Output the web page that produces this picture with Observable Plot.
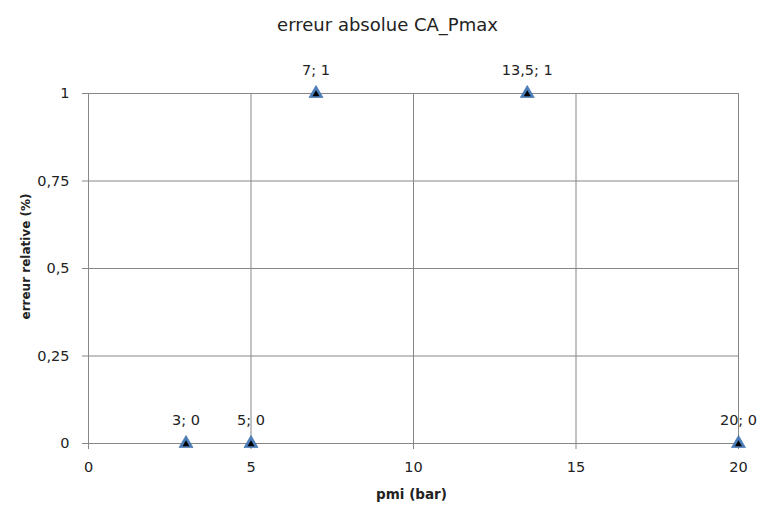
<!DOCTYPE html>
<html>
<head>
<meta charset="utf-8">
<script src="https://cdn.jsdelivr.net/npm/d3@7"></script>
<script src="https://cdn.jsdelivr.net/npm/@observablehq/plot@0.6"></script>
<style>
  html, body { margin: 0; padding: 0; background: #fff; }
  #chart svg { display: block; }
</style>
</head>
<body>
<div id="chart"></div>
<script>
const title = "erreur absolue CA_Pmax";
const xLabel = "pmi (bar)";
const yLabel = "erreur relative (%)";
const pmi = [3, 5, 7, 13.5, 20];
const erreur = [0, 0, 1, 1, 0];
const pointLabels = ["3; 0", "5; 0", "7; 1", "13,5; 1", "20; 0"];
const xTicks = [0, 5, 10, 15, 20];
const yTicks = [0, 0.25, 0.5, 0.75, 1];

const data = pmi.map((x, i) => ({x, y: erreur[i], label: pointLabels[i]}));
const fmt = d => String(d).replace(".", ",");
const gridColor = "#878787";
const font = "'DejaVu Sans', sans-serif";

const chart = Plot.plot({
  width: 759,
  height: 511,
  marginLeft: 88,
  marginRight: 21,
  marginTop: 93,
  marginBottom: 68,
  style: {fontFamily: font, fontSize: "14.5px", color: "#222", background: "#fff"},
  x: {domain: [0, 20], ticks: xTicks, label: null},
  y: {domain: [0, 1], ticks: yTicks, label: null},
  marks: [
    Plot.gridX(xTicks.filter(d => d > 0), {stroke: gridColor, strokeOpacity: 1}),
    Plot.gridY(yTicks.filter(d => d > 0), {stroke: gridColor, strokeOpacity: 1}),
    Plot.ruleX([0], {stroke: gridColor}),
    Plot.ruleY([0], {stroke: gridColor}),
    Plot.axisX({ticks: xTicks, tickSize: 6, tickPadding: 12, stroke: gridColor, tickFormat: fmt, fontSize: 14.5}),
    Plot.axisY({ticks: yTicks, tickSize: 6, tickPadding: 13, stroke: gridColor, tickFormat: fmt, fontSize: 14.5}),
    Plot.dot(data, {x: "x", y: "y", symbol: "triangle", r: 5.2, fill: "#4a7ebb", stroke: "#3a6aa5", strokeWidth: 0.6}),
    Plot.dot(data, {x: "x", y: "y", symbol: "triangle", r: 2.6, fill: "#000", dy: 0.8}),
    Plot.text(data, {x: "x", y: "y", text: "label", dy: -23, fontSize: 14.5, fill: "#222"}),
    Plot.text([title], {frameAnchor: "top", textAnchor: "middle", dy: -75, dx: -26, fontSize: 18, fill: "#222"}),
    Plot.text([xLabel], {frameAnchor: "bottom", textAnchor: "middle", dy: 55, dx: -2, fontSize: 13.5, fontWeight: "bold", fill: "#222"}),
    Plot.text([yLabel], {frameAnchor: "left", textAnchor: "middle", dx: -62, dy: -12, rotate: -90, fontSize: 12, fontWeight: "bold", fill: "#222"})
  ]
});
document.getElementById("chart").appendChild(chart);
</script>
</body>
</html>
